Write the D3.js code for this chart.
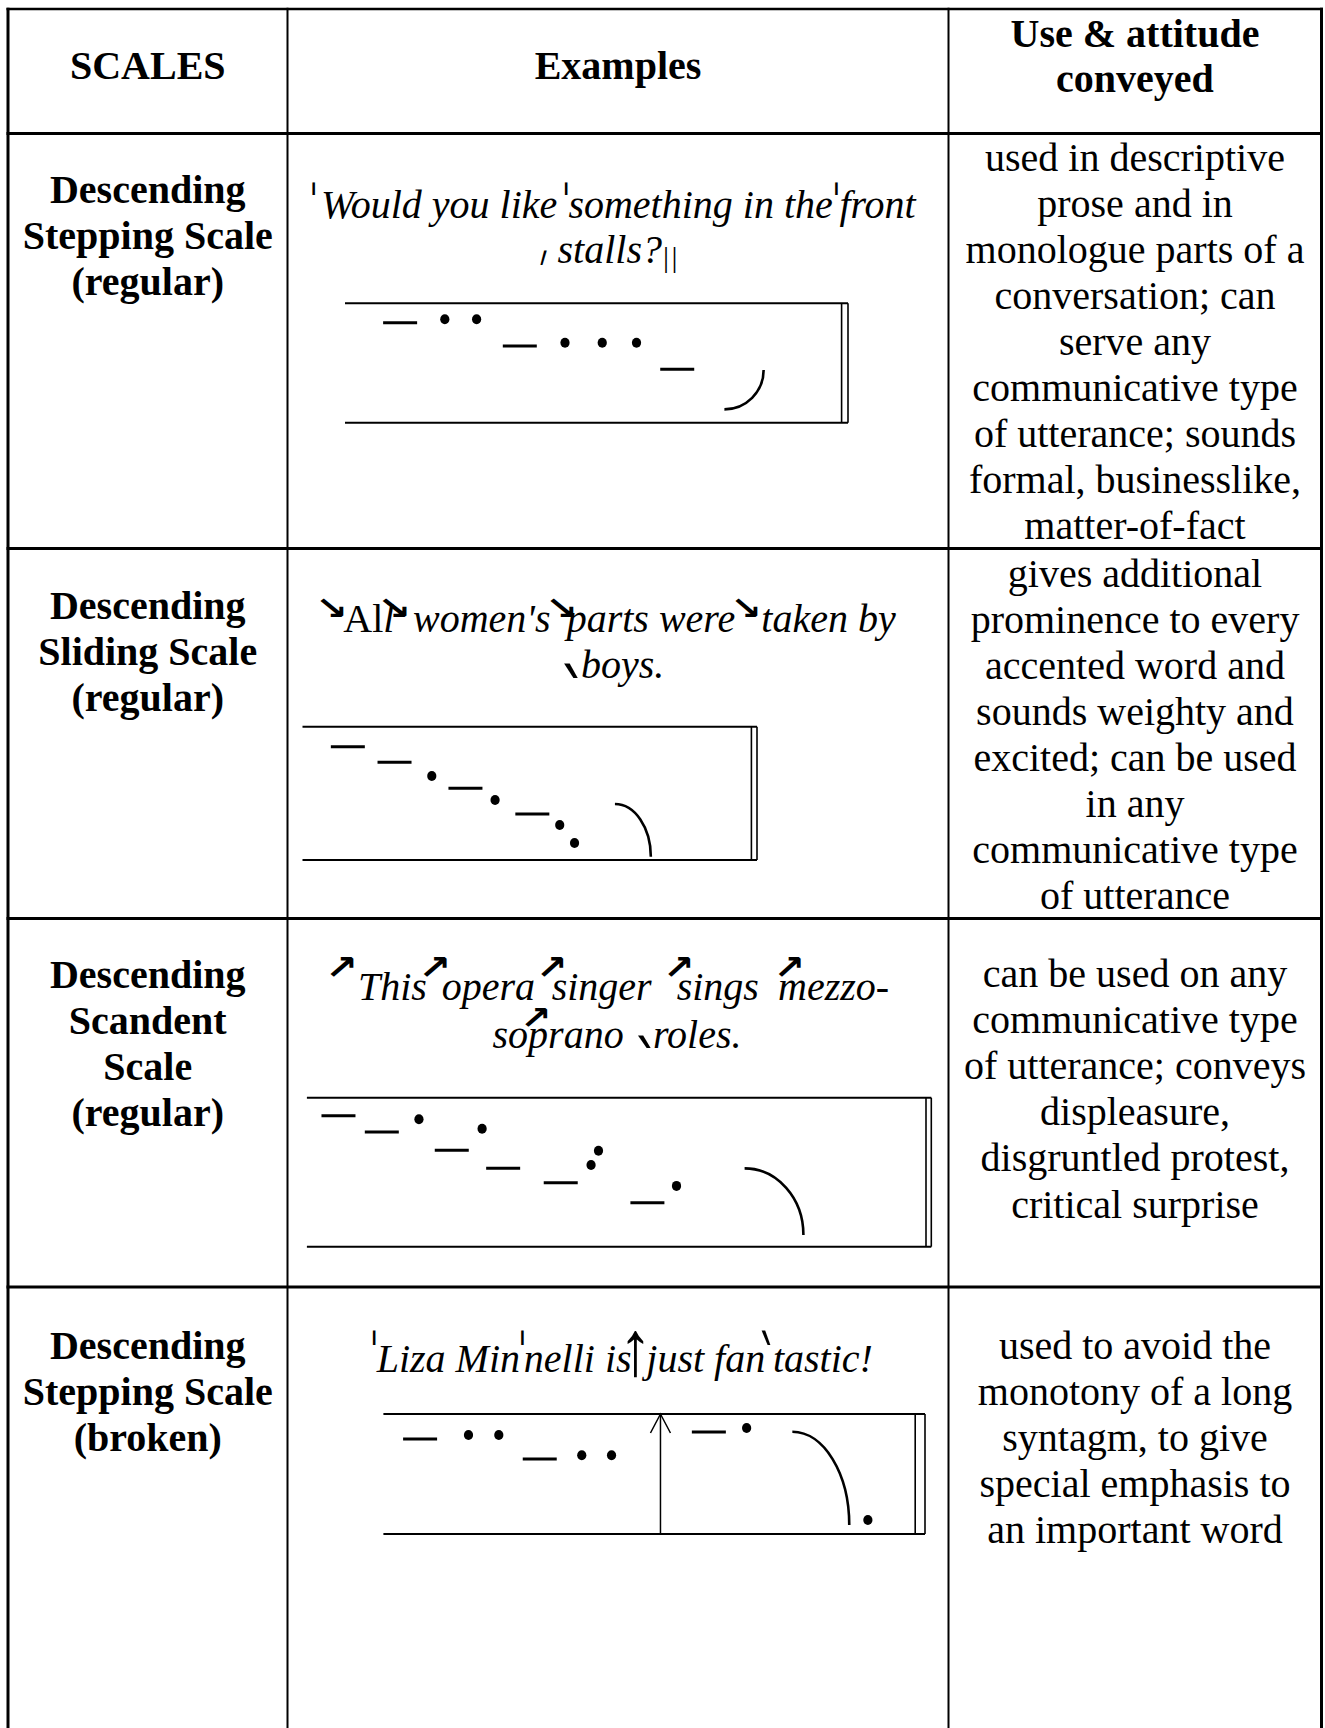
<!DOCTYPE html>
<html><head><meta charset="utf-8">
<script src="https://cdn.jsdelivr.net/npm/d3@7"></script>
<style>body{margin:0;background:#fff}svg{display:block}</style>
</head><body>
<svg id="c" width="1325" height="1728"></svg>
<script>
// ---------------- DATA ----------------
const headers = [["SCALES"], ["Examples"], ["Use & attitude", "conveyed"]];
const scaleNames = [
  ["Descending", "Stepping Scale", "(regular)"],
  ["Descending", "Sliding Scale", "(regular)"],
  ["Descending", "Scandent", "Scale", "(regular)"],
  ["Descending", "Stepping Scale", "(broken)"]
];
const useLines = [
  ["used in descriptive", "prose and in", "monologue parts of a", "conversation; can", "serve any",
   "communicative type", "of utterance; sounds", "formal, businesslike,", "matter-of-fact"],
  ["gives additional", "prominence to every", "accented word and", "sounds weighty and",
   "excited; can be used", "in any", "communicative type", "of utterance"],
  ["can be used on any", "communicative type", "of utterance; conveys", "displeasure,",
   "disgruntled protest,", "critical surprise"],
  ["used to avoid the", "monotony of a long", "syntagm, to give", "special emphasis to", "an important word"]
];
// example sentences: word runs (text, style) per line
const exampleWords = [
  [[["Would you like", "i"], ["something in the", "i"], ["front", "i"]], [["stalls?", "i"]]],
  [[["Al", "r"], ["l", "i"], ["women's", "i"], ["parts were", "i"], ["taken by", "i"]], [["boys.", "i"]]],
  [[["This", "i"], ["opera", "i"], ["singer", "i"], ["sings", "i"], ["mezzo-", "i"]], [["soprano", "i"], ["roles.", "i"]]],
  [[["Liza Min", "i"], ["nelli is", "i"], ["just fan", "i"], ["tastic!", "i"]]]
];
// prosodic marks in each example
const exampleMarks = [
  ["ˈ", "ˈ", "ˈ", "ˏ", "|", "|"],
  ["↘", "↘", "↘", "↘", "ˎ"],
  ["↗", "↗", "↗", "↗", "↗", "↗", "ˎ"],
  ["ˈ", "ˈ", "↑", "ˋ"]
];
// tonograms: t = time (% of stave), p = pitch (% of stave height)
const tonoStepping = [
  {k: "dash", t: 11.1, p: 83.8}, {k: "dot", t: 20.1, p: 86.6}, {k: "dot", t: 26.5, p: 86.6},
  {k: "dash", t: 35.2, p: 64.2}, {k: "dot", t: 44.3, p: 67.0}, {k: "dot", t: 51.8, p: 67.0},
  {k: "dot", t: 58.7, p: 67.0}, {k: "dash", t: 66.9, p: 44.7},
  {k: "curve", t: 76.4, p: 11.2, t2: 84.3, p2: 44.1}
];
const tonoSliding = [
  {k: "dash", t: 10.1, p: 85.0}, {k: "dash", t: 20.5, p: 73.3}, {k: "dot", t: 28.8, p: 63.0},
  {k: "dash", t: 36.3, p: 53.8}, {k: "dot", t: 42.9, p: 45.0}, {k: "dash", t: 51.2, p: 34.5},
  {k: "dot", t: 57.3, p: 26.3}, {k: "dot", t: 60.6, p: 12.8},
  {k: "curve", t: 69.6, p: 42.0, t2: 77.6, p2: 2.5}
];
const tonoScandent = [
  {k: "dash", t: 5.1, p: 87.9}, {k: "dash", t: 12.1, p: 77.0}, {k: "dot", t: 18.1, p: 85.5},
  {k: "dash", t: 23.4, p: 64.8}, {k: "dot", t: 28.3, p: 79.2}, {k: "dash", t: 31.7, p: 52.6},
  {k: "dash", t: 41.0, p: 43.0}, {k: "dot", t: 45.9, p: 54.8}, {k: "dot", t: 47.1, p: 64.4},
  {k: "dash", t: 55.0, p: 29.5}, {k: "dot", t: 59.7, p: 40.8},
  {k: "curve", t: 70.7, p: 52.6, t2: 80.2, p2: 7.9}
];
const tonoBroken = [
  {k: "dash", t: 6.9, p: 79.2}, {k: "dot", t: 16.0, p: 82.5}, {k: "dot", t: 21.7, p: 82.5},
  {k: "dash", t: 29.4, p: 62.5}, {k: "dot", t: 37.3, p: 65.6}, {k: "dot", t: 42.9, p: 65.6},
  {k: "break", t: 52.1}, {k: "dash", t: 61.2, p: 85.0}, {k: "dot", t: 68.3, p: 88.3},
  {k: "curve", t: 76.9, p: 85.2, t2: 87.6, p2: 7.5}, {k: "dot", t: 91.1, p: 11.7}
];
const tonograms = [tonoStepping, tonoSliding, tonoScandent, tonoBroken];

// ---------------- LAYOUT ----------------
const W = 1325, H = 1728;
const colX = [8, 287.5, 948.5, 1321.5];
const rowY = [9, 133.5, 548.5, 918.5, 1287];
const LH = 46.1;
const nameBase = [202.5, 619, 988, 1358.5];
const useBase = [170.5, 586.5, 987, 1358.5];
const wordPos = [
  [{y: 218.3, x: [321, 568.4, 839.4]}, {y: 263.3, x: [557.5]}],
  [{y: 632, x: [343.3, 383.3, 413, 566.7, 761.3]}, {y: 678, x: [581]}],
  [{y: 1000, x: [358, 441.7, 551.7, 676.7, 778]}, {y: 1048, x: [492.5, 653]}],
  [{y: 1371.7, x: [376.7, 523.8, 646.3, 772.9]}]
];
// mark ink box: centre x, centre y, width, height
const markPos = [
  [[313.8, 188.5, 3, 13], [566.2, 188.5, 3, 13], [836.4, 188.5, 3, 13], [543.5, 257.5, 6.5, 15],
   [666, 260, 1.8, 26.6], [674.6, 260, 1.8, 26.6]],
  [[331.5, 607.5, 23, 19], [394.2, 607.5, 24, 19], [561.5, 607.5, 23, 19], [746.2, 607.5, 22, 19],
   [570.8, 670.8, 14, 15]],
  [[341.8, 966.7, 23, 20], [435, 966.7, 23, 20], [552, 966.7, 22, 20], [679, 966.7, 22, 20],
   [789.5, 966.7, 22, 20], [536, 1017.5, 22, 19], [644.3, 1041.6, 13, 13]],
  [[374.3, 1337.5, 3, 15], [522.6, 1337.5, 3, 15], [635.3, 1353.5, 16, 47], [766, 1337.5, 9, 15]]
];
const boxes = [
  {x0: 345, x1: 841.6, gap: 6.4, y0: 303.3, y1: 422.7},
  {x0: 302.5, x1: 751.4, gap: 5.6, y0: 726.7, y1: 860},
  {x0: 306.9, x1: 926, gap: 5.3, y0: 1097.7, y1: 1246.7},
  {x0: 383.4, x1: 915.2, gap: 9.8, y0: 1414, y1: 1534}
];

const SERIF = '"Liberation Serif","Times New Roman",serif';
const SANS = '"DejaVu Sans",sans-serif';
const svg = d3.select("#c");
svg.append("rect").attr("width", W).attr("height", H).attr("fill", "#fff");

// ---------------- GRID ----------------
const grid = svg.append("g").attr("stroke", "#000");
rowY.forEach((y, i) => grid.append("line")
  .attr("x1", colX[0] - 1.5).attr("x2", colX[3] + 1.5).attr("y1", y).attr("y2", y)
  .attr("stroke-width", i === 0 ? 2.5 : 3));
colX.forEach((x, i) => grid.append("line")
  .attr("x1", x).attr("x2", x).attr("y1", rowY[0] - 1.2).attr("y2", H)
  .attr("stroke-width", (i === 0 || i === 3) ? 3 : 2));

const colC = i => (colX[i] + colX[i + 1]) / 2;

// ---------------- HEADER ----------------
const headBase = [[78.6], [78.6], [46.5, 92]];
headers.forEach((lines, c) => lines.forEach((t, j) => svg.append("text")
  .attr("x", colC(c)).attr("y", headBase[c][j]).attr("text-anchor", "middle")
  .attr("font-family", SERIF).attr("font-weight", "bold").attr("font-size", 40).text(t)));

// ---------------- LEFT / RIGHT COLUMNS ----------------
scaleNames.forEach((lines, r) => lines.forEach((t, j) => svg.append("text")
  .attr("x", colC(0)).attr("y", nameBase[r] + j * LH).attr("text-anchor", "middle")
  .attr("font-family", SERIF).attr("font-weight", "bold").attr("font-size", 40).text(t)));
useLines.forEach((lines, r) => lines.forEach((t, j) => svg.append("text")
  .attr("x", colC(2)).attr("y", useBase[r] + j * LH).attr("text-anchor", "middle")
  .attr("font-family", SERIF).attr("font-size", 40).text(t)));

// ---------------- EXAMPLES ----------------
exampleWords.forEach((lines, r) => lines.forEach((runs, li) => {
  const pos = wordPos[r][li];
  runs.forEach(([t, st], k) => svg.append("text")
    .attr("x", pos.x[k]).attr("y", pos.y)
    .attr("font-family", SERIF).attr("font-size", 40)
    .attr("font-style", st === "i" ? "italic" : "normal").text(t));
}));

const ctx = document.createElement("canvas").getContext("2d");
function markFont(ch) {
  if (ch === "↘" || ch === "↗") return {fam: SANS, wt: "bold"};
  if (ch === "ˈ" || ch === "ˏ" || ch === "ˎ" || ch === "ˋ") return {fam: SANS, wt: "normal"};
  return {fam: SERIF, wt: "normal"};
}
exampleMarks.forEach((marks, r) => marks.forEach((ch, k) => {
  const [cx, cy, w, h] = markPos[r][k];
  const f = markFont(ch);
  const base = 100;
  ctx.font = `${f.wt} ${base}px ${f.fam}`;
  const m = ctx.measureText(ch);
  const inkW = m.actualBoundingBoxRight + m.actualBoundingBoxLeft;
  const inkH = m.actualBoundingBoxAscent + m.actualBoundingBoxDescent;
  const icx = (m.actualBoundingBoxRight - m.actualBoundingBoxLeft) / 2;
  const icy = (m.actualBoundingBoxDescent - m.actualBoundingBoxAscent) / 2;
  const sx = w / inkW, sy = h / inkH;
  svg.append("text")
    .attr("transform", `translate(${cx},${cy}) scale(${sx},${sy}) translate(${-icx},${-icy})`)
    .attr("font-family", f.fam).attr("font-weight", f.wt).attr("font-size", base).text(ch);
}));

// ---------------- TONOGRAMS ----------------
const KAPPA = 0.5523, DASH = 34;
tonograms.forEach((data, i) => {
  const b = boxes[i];
  const x = d3.scaleLinear().domain([0, 100]).range([b.x0, b.x1]);
  const y = d3.scaleLinear().domain([0, 100]).range([b.y1, b.y0]);
  const g = svg.append("g").attr("stroke", "#000").attr("fill", "none");
  g.append("line").attr("x1", b.x0).attr("x2", b.x1 + b.gap).attr("y1", b.y0).attr("y2", b.y0).attr("stroke-width", 2);
  g.append("line").attr("x1", b.x0).attr("x2", b.x1 + b.gap).attr("y1", b.y1).attr("y2", b.y1).attr("stroke-width", 2);
  [b.x1, b.x1 + b.gap].forEach(xx => g.append("line").attr("x1", xx).attr("x2", xx)
    .attr("y1", b.y0).attr("y2", b.y1).attr("stroke-width", 1.6));
  g.selectAll("line.dash").data(data.filter(d => d.k === "dash")).join("line").attr("class", "dash")
    .attr("x1", d => x(d.t) - DASH / 2).attr("x2", d => x(d.t) + DASH / 2)
    .attr("y1", d => y(d.p)).attr("y2", d => y(d.p)).attr("stroke-width", 3);
  g.selectAll("ellipse").data(data.filter(d => d.k === "dot")).join("ellipse")
    .attr("cx", d => x(d.t)).attr("cy", d => y(d.p)).attr("rx", 4.6).attr("ry", 5)
    .attr("fill", "#000").attr("stroke", "none");
  g.selectAll("path.curve").data(data.filter(d => d.k === "curve")).join("path").attr("class", "curve")
    .attr("d", d => {
      const x0 = x(d.t), y0 = y(d.p), x1 = x(d.t2), y1 = y(d.p2);
      const p = d3.path();
      p.moveTo(x0, y0);
      p.bezierCurveTo(x0 + KAPPA * (x1 - x0), y0, x1, y1 - KAPPA * (y1 - y0), x1, y1);
      return p.toString();
    }).attr("stroke-width", 2.6);
  data.filter(d => d.k === "break").forEach(d => {
    const xx = x(d.t);
    g.append("line").attr("x1", xx).attr("x2", xx).attr("y1", y(0)).attr("y2", y(100)).attr("stroke-width", 1.5);
    g.append("path").attr("d", `M${xx - 10},${y(100) + 19}L${xx},${y(100)}L${xx + 10},${y(100) + 19}`)
      .attr("stroke-width", 1.5);
  });
});
</script>
</body></html>
